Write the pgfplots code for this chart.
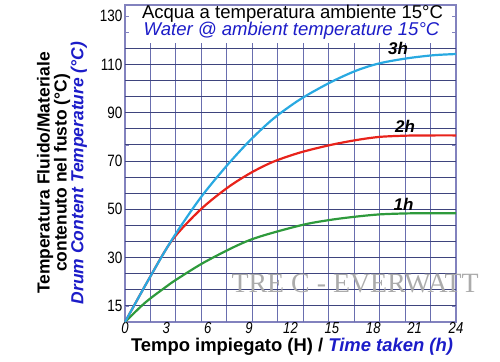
\documentclass[border=0pt]{standalone}
\usepackage{fontspec}
\setmainfont{Liberation Sans}
\newfontfamily\serifwm{Liberation Serif}
\newfontfamily\narrow[FakeStretch=0.82]{Liberation Sans}
\usepackage{pgfplots}
\pgfplotsset{compat=1.18}
\definecolor{c3h}{RGB}{41,169,225}
\definecolor{c2h}{RGB}{232,35,27}
\definecolor{c1h}{RGB}{46,154,60}
\definecolor{txtblue}{RGB}{28,28,200}
\definecolor{hgrid}{RGB}{62,68,125}
\definecolor{vgrid}{RGB}{105,110,175}
\definecolor{frame}{RGB}{130,130,190}
\begin{document}
\begin{tikzpicture}[x=1bp,y=1bp]
\path[use as bounding box] (0,0) rectangle (500,361);
\begin{axis}[
  at={(125bp,39bp)}, anchor=south west,
  width=331bp, height=317bp, scale only axis,
  xmin=0, xmax=24, ymin=3.333, ymax=134.6,
  /pgf/number format/assume math mode=true,
  xtick={0,3,6,9,12,15,18,21,24},
  xticklabels={0,3,6,9,12,15,18,21,24},
  xtick style={draw=none},
  ytick={10,16.667,23.333,30,36.667,43.333,50,56.667,63.333,70,76.667,83.333,90,96.667,103.333,110,116.667,123.333,130},
  yticklabels={15,,,30,,,50,,,70,,,90,,,110,,,130},
  tick align=inside, major tick length=4bp,
  ytick style={draw=frame, line width=0.8bp},
  axis line style={draw=frame, line width=1.2bp},
  yticklabel style={font=\narrow\fontsize{16.5}{16.5}\selectfont, xshift=1bp},
  xticklabel style={font=\narrow\itshape\fontsize{16}{16}\selectfont, yshift=3bp},
  clip=false,
]
\pgfplotsinvokeforeach{1.8462,3.6923,5.5385,7.3846,9.2308,11.0769,12.9231,14.7692,16.6154,18.4615,20.3077,22.1538}{
  \draw[vgrid, line width=1.1bp] (axis cs:#1,3.333) -- (axis cs:#1,118.8);
}
\pgfplotsinvokeforeach{10,16.667,23.333,30,36.667,43.333,50,56.667,63.333,70,76.667,83.333,90,96.667,103.333,110,116.667}{
  \draw[hgrid, line width=0.9bp] (axis cs:0,#1) -- (axis cs:24,#1);
}
\addplot[c1h, line width=2.2bp, smooth, tension=0.5] coordinates {
(0,3.33) (1.45,11.3) (2.9,17.6) (3.75,21.0) (5.92,28.6) (9.06,37.3) (12.69,43.3) (14.87,45.6) (16.8,47.0) (18.49,47.9) (20.43,48.3) (22.36,48.4) (24,48.4)};
\addplot[c2h, line width=2.2bp, smooth, tension=0.5] coordinates {
(0,3.33) (1.69,20.7) (3.39,37.0) (5.44,49.7) (7.37,58.7) (9.06,64.9) (10.75,69.7) (12.69,73.5) (14.87,76.6) (16.8,78.7) (18.49,80.0) (20.43,80.5) (22.36,80.6) (24,80.6)};
\addplot[c3h, line width=2.2bp, smooth, tension=0.5] coordinates {
(0,3.33) (1.69,20.7) (3.39,37.3) (5.44,54.5) (7.37,68.0) (9.06,78.5) (10.75,87.5) (12.69,95.5) (14.87,102.5) (16.8,107.5) (18.49,110.5) (20.43,112.5) (22.36,113.8) (24,114.3)};
\node[font=\bfseries\itshape\fontsize{17}{17}\selectfont] at (axis cs:19.8,116.8) {3h};
\node[font=\bfseries\itshape\fontsize{17}{17}\selectfont] at (axis cs:20.3,84.5) {2h};
\node[font=\bfseries\itshape\fontsize{17}{17}\selectfont] at (axis cs:20.2,52.2) {1h};
\end{axis}
\node[font=\fontsize{18.6}{18.6}\selectfont] at (292.5,347) {Acqua a temperatura ambiente 15°C};
\node[font=\itshape\fontsize{18.6}{18.6}\selectfont, text=txtblue] at (291.5,330) {Water @ ambient temperature 15°C};
\node[rotate=90, align=center, font=\bfseries\fontsize{17.5}{17}\selectfont] at (62,188)
  {Temperatura Fluido/Materiale\\contenuto nel fusto (°C)\\{\color{txtblue}\itshape Drum Content Temperature (°C)}};
\node[font=\bfseries\fontsize{18.5}{18.5}\selectfont] at (292,14) {Tempo impiegato (H) / {\color{txtblue}\itshape Time taken (h)}};
\node[anchor=base west, text=black!33, font=\serifwm\fontsize{28}{28}\selectfont] at (228,69) {TRE C - EVERWATT};
\end{tikzpicture}
\end{document}
